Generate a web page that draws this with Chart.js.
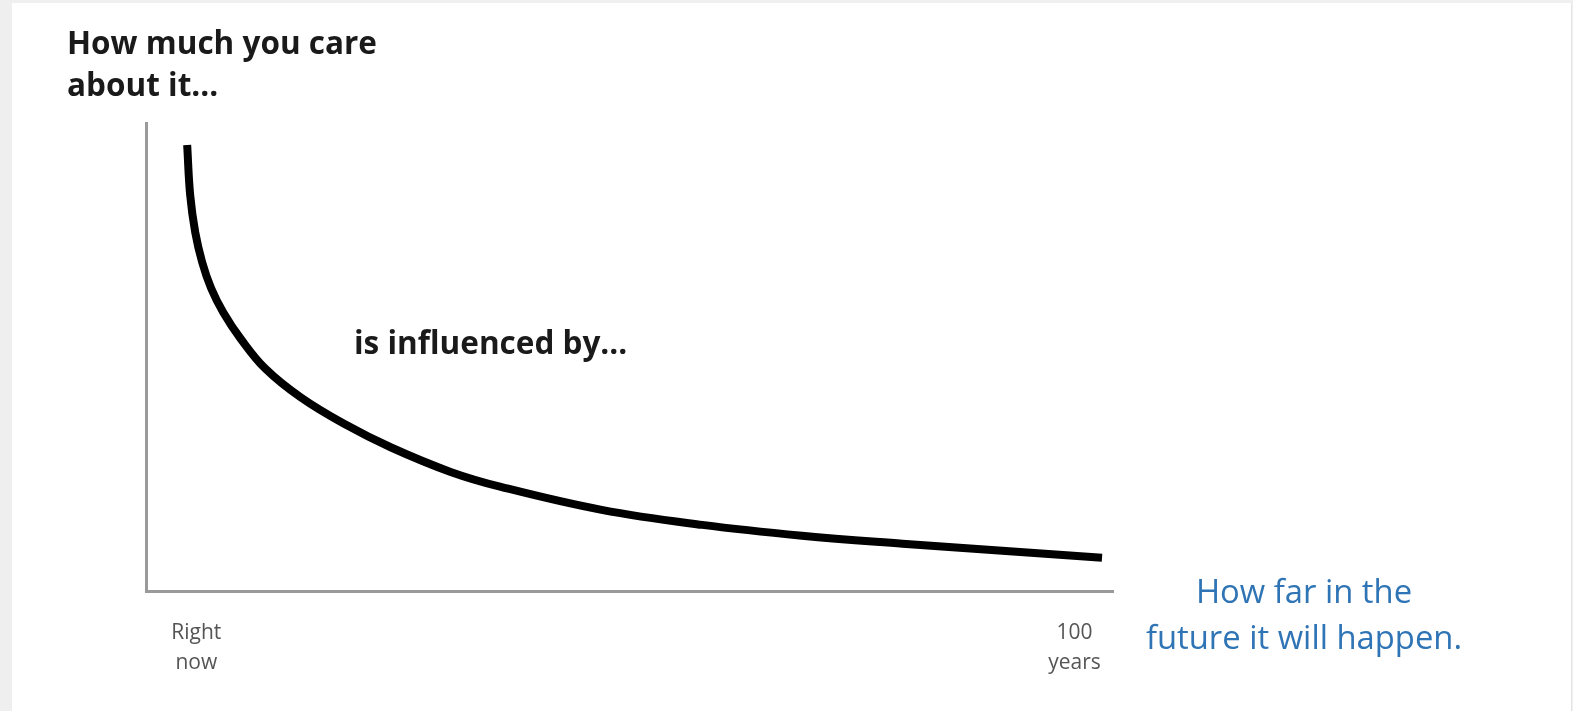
<!DOCTYPE html>
<html>
<head>
<meta charset="utf-8">
<script src="https://cdn.jsdelivr.net/npm/chart.js@4/dist/chart.umd.min.js"></script>
<style>
  html, body { margin: 0; padding: 0; background: #efefef; }
  body { width: 1573px; height: 711px; position: relative; overflow: hidden; }
  #card { position: absolute; left: 12px; top: 3px; width: 1559px; height: 708px; background: #fff; border-right: 1px solid #e4e4e4; }
  #wrap { position: absolute; left: 0; top: 0; width: 1573px; height: 711px; }
  .lbl { position: absolute; font-family: "Open Sans", sans-serif; white-space: nowrap; }
  #ytitle { left: 67px; top: 21px; font-size: 31.5px; font-weight: bold; color: #1a1a1a; line-height: 42px; }
  #mid { left: 354px; top: 322px; font-size: 31.5px; font-weight: bold; color: #1a1a1a; line-height: 40px; }
  #xtitle { left: 1104px; top: 568px; width: 400px; font-size: 32.8px; color: #2f74b5; line-height: 46px; text-align: center; }
</style>
</head>
<body>
<div id="card"></div>
<div id="wrap"><canvas id="myChart" width="1573" height="711"></canvas></div>
<div class="lbl" id="ytitle">How much you care<br>about it...</div>
<div class="lbl" id="mid">is influenced by...</div>
<div class="lbl" id="xtitle">How far in the<br>future it will happen.</div>
<script>
// valores
const years = [0, 0.33, 0.88, 1.64, 2.63, 3.95, 5.81, 8.55, 12.4, 17.1, 22.3, 28.8, 34.3, 45.3, 56.3, 67.2, 78.2, 89.1, 100];
const care  = [95.3, 84.6, 76.7, 70.3, 64.7, 59.6, 54.1, 47.6, 41.5, 35.9, 30.8, 25.6, 22.4, 17.5, 14.3, 12.0, 10.3, 8.8, 7.3];
const tickValues = [1, 97];
const tickLabels = [["Right", "now"], ["100", "years"]];

const ctx = document.getElementById('myChart');
const puntos = years.map((x, i) => ({ x: x, y: care[i] }));

new Chart(ctx, {
    type: 'line',
    data: {
        datasets: [{
            data: puntos,
            borderColor: '#000',
            borderWidth: 8,
            pointRadius: 0,
            tension: 0.4,
            fill: false
        }]
    },
    options: {
        responsive: false,
        animation: false,
        layout: { padding: { left: 138, right: 460, top: 123, bottom: 15 } },
        plugins: { legend: { display: false }, tooltip: { enabled: false } },
        scales: {
            x: {
                type: 'linear',
                min: -4.5,
                max: 101.2,
                grid: { display: false },
                border: { display: true, color: '#9a9a9a', width: 3 },
                afterBuildTicks: (scale) => {
                    scale.ticks = tickValues.map(v => ({ value: v }));
                },
                ticks: {
                    autoSkip: false,
                    maxRotation: 0,
                    padding: 18,
                    color: '#555',
                    font: { family: '"Open Sans", sans-serif', size: 21, lineHeight: 1.43 },
                    callback: (value) => tickLabels[tickValues.indexOf(value)]
                }
            },
            y: {
                min: 0,
                max: 100,
                grid: { display: false },
                border: { display: true, color: '#9a9a9a', width: 3 },
                ticks: { display: false }
            }
        }
    }
});
</script>
</body>
</html>
